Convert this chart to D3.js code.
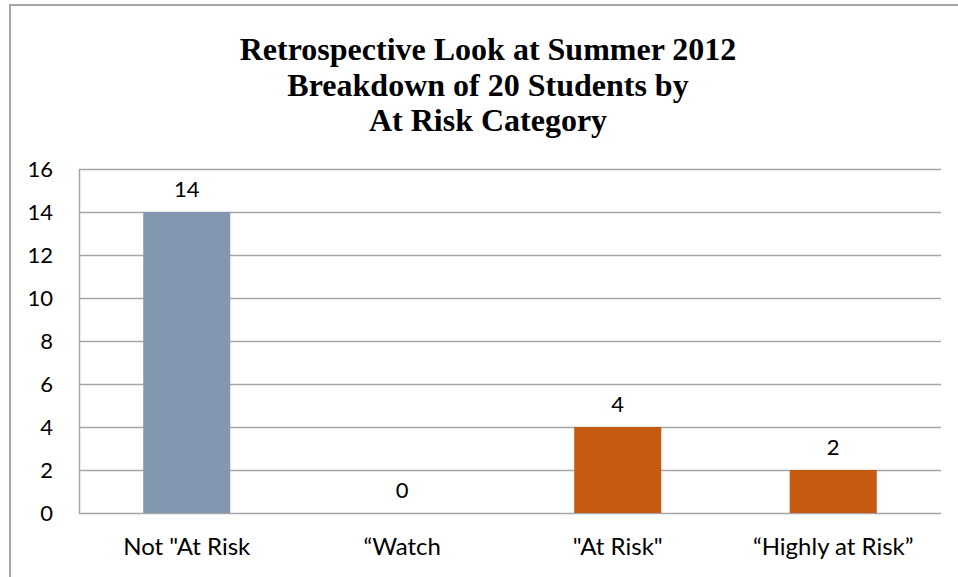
<!DOCTYPE html>
<html>
<head>
<meta charset="utf-8">
<script src="https://cdn.jsdelivr.net/npm/d3@7"></script>
<style>
  html, body { margin: 0; padding: 0; background: #fff; }
  svg { display: block; }
</style>
</head>
<body>
<svg id="chart" width="958" height="577"></svg>
<script>
// Chart data
const titleLines = ["Retrospective Look at Summer 2012", "Breakdown of 20 Students by", "At Risk Category"];
const categories = ["Not \"At Risk", "\u201CWatch", "\"At Risk\"", "\u201CHighly at Risk\u201D"];
const counts = [14, 0, 4, 2];
const barColors = ["#8497B0", "#8497B0", "#C55A11", "#C55A11"];
const yTicks = [0, 2, 4, 6, 8, 10, 12, 14, 16];

const W = 958, H = 577;
const margin = { left: 79, right: 17, top: 169, bottom: 64 };
const labelFont = "Lato, 'Open Sans', sans-serif";
const svg = d3.select("#chart");

// Outer chart frame (left and top edges visible)
svg.append("path")
  .attr("d", `M10,${H} L10,5 L${W},5`)
  .attr("fill", "none")
  .attr("stroke", "#A6A6A6")
  .attr("stroke-width", 2);

// Title
const title = svg.append("text")
  .attr("text-anchor", "middle")
  .attr("font-family", "'Liberation Serif', 'Times New Roman', serif")
  .attr("font-weight", "bold")
  .attr("font-size", 32)
  .attr("fill", "#000");
titleLines.forEach((line, i) => {
  title.append("tspan")
    .attr("x", 488)
    .attr("y", 60 + i * 35.5)
    .text(line);
});

const x = d3.scaleBand()
  .domain(categories)
  .range([margin.left, W - margin.right])
  .paddingInner(0.596)
  .paddingOuter(0.298);

const y = d3.scaleLinear()
  .domain([0, 16])
  .range([H - margin.bottom, margin.top]);

// Horizontal gridlines
svg.append("g")
  .selectAll("line")
  .data(yTicks)
  .join("line")
  .attr("x1", margin.left)
  .attr("x2", W - margin.right)
  .attr("y1", d => Math.round(y(d)) + 0.5)
  .attr("y2", d => Math.round(y(d)) + 0.5)
  .attr("stroke", "#A6A6A6")
  .attr("stroke-width", 1.5);

// Y axis
const yAxis = svg.append("g")
  .attr("transform", `translate(${margin.left},0)`)
  .call(d3.axisLeft(y).tickValues(yTicks).tickSize(0).tickPadding(26).tickFormat(d3.format("d")));
yAxis.select(".domain").attr("stroke", "#A6A6A6").attr("stroke-width", 1.5);
yAxis.selectAll("text")
  .attr("font-family", labelFont)
  .attr("font-size", 22)
  .attr("fill", "#000");

// Bars
svg.append("g")
  .selectAll("rect")
  .data(counts)
  .join("rect")
  .attr("x", (d, i) => x(categories[i]))
  .attr("width", x.bandwidth())
  .attr("y", d => y(d))
  .attr("height", d => y(0) - y(d))
  .attr("fill", (d, i) => barColors[i]);

// Value labels
svg.append("g")
  .selectAll("text")
  .data(counts)
  .join("text")
  .attr("x", (d, i) => x(categories[i]) + x.bandwidth() / 2)
  .attr("y", d => y(d) - 15)
  .attr("text-anchor", "middle")
  .attr("font-family", labelFont)
  .attr("font-size", 22)
  .attr("fill", "#000")
  .text(d => d);

// X axis
const xAxis = svg.append("g")
  .attr("transform", `translate(0,${y(0)})`)
  .call(d3.axisBottom(x).tickSize(0).tickPadding(25));
xAxis.select(".domain").remove();
xAxis.selectAll("text")
  .attr("font-family", labelFont)
  .attr("font-size", 24)
  .attr("fill", "#000");
</script>
</body>
</html>
